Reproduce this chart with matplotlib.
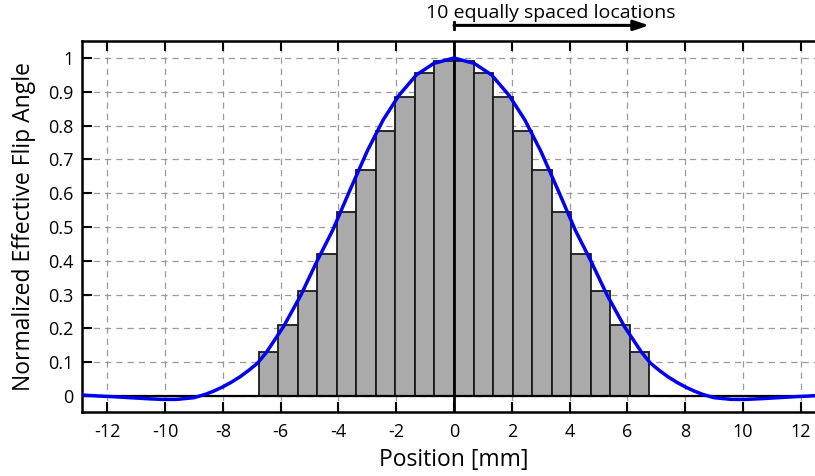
import numpy as np
import matplotlib
matplotlib.use("Agg")
import matplotlib.pyplot as plt

plt.rcParams['font.family'] = ['Open Sans', 'DejaVu Sans']

# ---- data ----
bar_heights = [0.13, 0.21, 0.31, 0.42, 0.545, 0.67, 0.785, 0.885, 0.955, 0.99,
               0.99, 0.955, 0.885, 0.785, 0.67, 0.545, 0.42, 0.31, 0.21, 0.13]
bar_start = -6.75
bar_width = 0.675

curve_x = [-12.9, -12.3, -11.8, -11.2, -10.6, -10.1, -9.6, -9.0, -8.6, -8.3, -8.0, -7.7,
           -7.4, -7.1, -6.8, -6.5, -5.9, -5.3, -4.75, -4.2, -3.6, -3.0, -2.45, -1.9,
           -1.3, -0.7, 0.0,
           0.7, 1.3, 1.9, 2.45, 3.0, 3.6, 4.2, 4.75, 5.3, 5.9, 6.5, 6.8, 7.1,
           7.4, 7.7, 8.0, 8.3, 8.6, 9.0, 9.6, 10.1, 10.6, 11.2, 11.8, 12.3, 12.9]
curve_y = [0.003, 0.000, -0.002, -0.005, -0.008, -0.010, -0.010, -0.005, 0.005, 0.015, 0.027, 0.041,
           0.057, 0.076, 0.097, 0.128, 0.205, 0.298, 0.397, 0.49, 0.609, 0.725, 0.817, 0.890,
           0.950, 0.984, 1.0,
           0.984, 0.950, 0.890, 0.817, 0.725, 0.609, 0.49, 0.397, 0.298, 0.205, 0.128, 0.097, 0.076,
           0.057, 0.041, 0.027, 0.015, 0.005, -0.005, -0.010, -0.010, -0.008, -0.005, -0.002, 0.000, 0.003]

x_ticks = [-12, -10, -8, -6, -4, -2, 0, 2, 4, 6, 8, 10, 12]
y_ticks = [0, 0.1, 0.2, 0.3, 0.4, 0.5, 0.6, 0.7, 0.8, 0.9, 1.0]
y_ticklabels = ['0', '0.1', '0.2', '0.3', '0.4', '0.5', '0.6', '0.7', '0.8', '0.9', '1']
annotation = '10 equally spaced locations'
arrow_end = 6.75

# ---- figure ----
fig = plt.figure(figsize=(8.15, 4.76), dpi=100)
ax = fig.add_axes([82/815, 1-412/476, (826-82)/815, (412-41)/476])
ax.set_xlim(-12.87, 12.87)
ax.set_ylim(-0.0473, 1.0503)

ax.set_axisbelow(True)
ax.grid(True, color='#9a9a9a', linestyle=(0, (5, 4)), linewidth=0.9)

centers = bar_start + bar_width * (np.arange(len(bar_heights)) + 0.5)
ax.bar(centers, bar_heights, width=bar_width, facecolor='#aaaaaa',
       edgecolor='#1a1a1a', linewidth=1.3, zorder=2)

ax.axhline(0, color='black', linewidth=1.6, zorder=2.5)
ax.axvline(0, color='black', linewidth=2.0, zorder=2.5)

ax.plot(curve_x, curve_y, color='#0000ee', linewidth=2.5, zorder=3,
        solid_capstyle='round', solid_joinstyle='round')

# annotation arrow above the axes
ax.plot([0, 0], [1.087, 1.106], color='black', linewidth=2.0, clip_on=False)
ax.annotate('', xy=(arrow_end, 1.0965), xytext=(0, 1.0965),
            arrowprops=dict(arrowstyle='-|>,head_length=0.9,head_width=0.3',
                            color='black', linewidth=2.2, shrinkA=0, shrinkB=0),
            annotation_clip=False)
ax.text(3.33, 1.133, annotation, ha='center', va='center', fontsize=14,
        clip_on=False)

ax.set_xticks(x_ticks)
ax.set_xticklabels([str(t) for t in x_ticks])
ax.set_yticks(y_ticks)
ax.set_yticklabels(y_ticklabels)
ax.tick_params(direction='in', length=7, width=1.5, top=True, right=True,
               labelsize=13, pad=6)
ax.tick_params(axis='x', pad=8)
for s in ax.spines.values():
    s.set_linewidth(1.8)

ax.set_xlabel('Position [mm]', fontsize=16.5, labelpad=5)
ax.set_ylabel('Normalized Effective Flip Angle', fontsize=16.5, labelpad=9)

fig.savefig('out.png', dpi=100)
